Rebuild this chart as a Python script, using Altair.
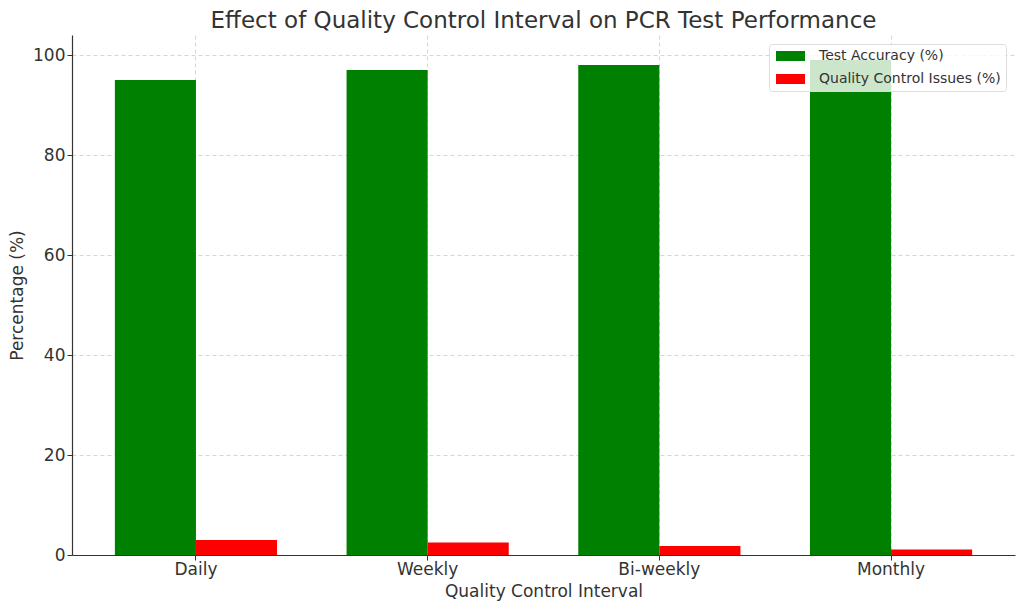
import altair as alt
import pandas as pd

intervals = ["Daily", "Weekly", "Bi-weekly", "Monthly"]
accuracy = [95, 97, 98, 99]
qc_issues = [3.0, 2.5, 1.8, 1.1]
series = ["Test Accuracy (%)", "Quality Control Issues (%)"]
colors = ["green", "red"]
y_ticks = [0, 20, 40, 60, 80, 100]

rows = []
for i, name in enumerate(intervals):
    rows.append({"interval": name, "series": series[0], "value": accuracy[i]})
    rows.append({"interval": name, "series": series[1], "value": qc_issues[i]})
df = pd.DataFrame(rows)

text_color = "#333333"
font = "DejaVu Sans"

bars = alt.Chart(df).mark_bar().encode(
    x=alt.X(
        "interval:N",
        sort=intervals,
        title="Quality Control Interval",
        scale=alt.Scale(paddingInner=0.3, paddingOuter=0.185),
        axis=alt.Axis(
            labelAngle=0,
            bandPosition=0.5,
            grid=True,
            gridDash=[4, 3],
            gridColor="#cccccc",
            gridWidth=0.8,
            tickSize=5,
            tickColor=text_color,
            domainColor=text_color,
            domainWidth=1.2,
            labelFontSize=17,
            labelPadding=1,
            titleFontSize=17,
            titlePadding=6,
            labelColor=text_color,
            titleColor=text_color,
            titleFontWeight="normal",
        ),
    ),
    xOffset=alt.XOffset(
        "series:N", sort=series, scale=alt.Scale(paddingInner=0, paddingOuter=0)
    ),
    y=alt.Y(
        "value:Q",
        title="Percentage (%)",
        scale=alt.Scale(domain=[0, 104], nice=False),
        axis=alt.Axis(
            values=y_ticks,
            grid=True,
            gridDash=[4, 3],
            gridColor="#cccccc",
            gridWidth=0.8,
            tickSize=5,
            tickColor=text_color,
            domainColor=text_color,
            domainWidth=1.2,
            labelFontSize=17,
            labelPadding=2,
            titleFontSize=17,
            titlePadding=6,
            labelColor=text_color,
            titleColor=text_color,
            titleFontWeight="normal",
        ),
    ),
    color=alt.Color(
        "series:N",
        sort=series,
        scale=alt.Scale(domain=series, range=colors),
        legend=alt.Legend(
            title=None,
            orient="none",
            legendX=697,
            legendY=9,
            fillColor="rgba(255,255,255,0.8)",
            strokeColor="#dddddd",
            cornerRadius=3,
            padding=5,
            rowPadding=9,
            symbolType="M-1,-1L4.8,-1L4.8,1L-1,1Z",
            symbolSize=100,
            symbolStrokeWidth=0,
            symbolOpacity=1,
            labelOffset=31,
            labelFontSize=14,
            labelColor=text_color,
            labelLimit=300,
        ),
    ),
)

chart = bars.properties(
    width=943,
    height=520,
    autosize=alt.AutoSizeParams(type="none"),
    padding={"left": 64, "top": 27, "right": 1, "bottom": 47},
    title=alt.TitleParams(
        "Effect of Quality Control Interval on PCR Test Performance",
        fontSize=23,
        fontWeight="normal",
        color=text_color,
        offset=2,
    ),
).configure(font=font).configure_view(stroke=None)

chart.save("out.html", embed_options={"renderer": "svg", "actions": False})
